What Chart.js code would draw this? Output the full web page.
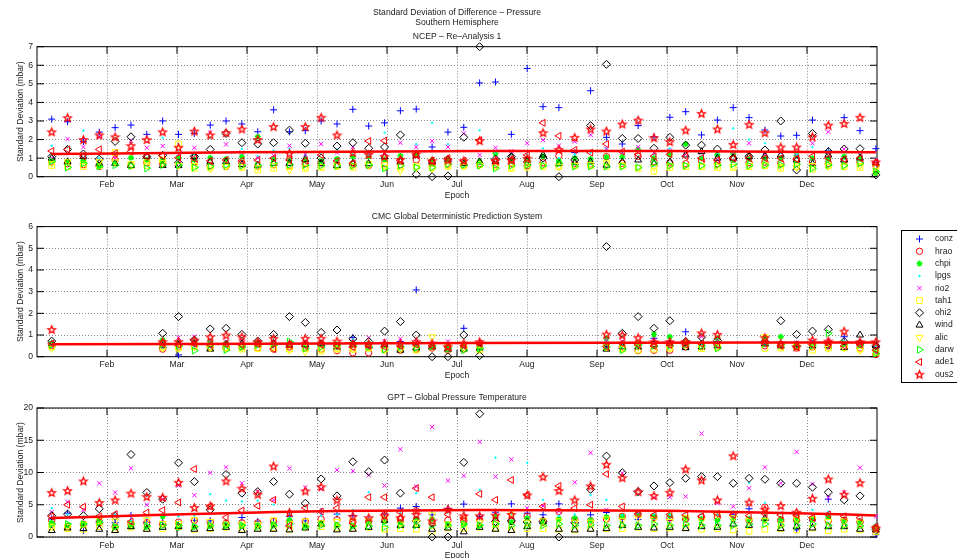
<!DOCTYPE html>
<html>
<head>
<meta charset="utf-8">
<script src="https://cdn.jsdelivr.net/npm/chart.js@4.4.1/dist/chart.umd.min.js"></script>
<style>
body { margin: 0; background: #fff; overflow: hidden; }
#wrap { position: relative; width: 957px; height: 558px; }
canvas { position: absolute; left: 0; }
</style>
</head>
<body>
<div id="wrap">
<canvas id="ncep" width="957" height="200" style="top:0"></canvas>
<canvas id="cmc" width="957" height="190" style="top:200px"></canvas>
<canvas id="gpt" width="957" height="180" style="top:380px"></canvas>
</div>
<script>
const stations = ['conz', 'hrao', 'chpi', 'lpgs', 'rio2', 'tah1', 'ohi2', 'wind', 'alic', 'darw', 'ade1', 'ous2']
const monthLabels = ['Feb', 'Mar', 'Apr', 'May', 'Jun', 'Jul', 'Aug', 'Sep', 'Oct', 'Nov', 'Dec']
const n = null

// NCEP - Re-Analysis 1, one value per weekly epoch (53 weeks)
const ncepConz = [3.1,2.96,1.9,2.4,2.64,2.78,2.28,3.0,2.28,2.33,2.78,3.0,2.84,2.42,3.6,2.42,2.48,3.0,2.84,3.63,2.73,2.9,3.55,3.64,1.6,2.4,2.66,5.05,5.1,2.28,5.83,3.77,3.72,1.3,4.63,2.12,1.76,2.75,2.15,3.2,3.5,2.25,3.05,3.72,3.18,2.51,2.19,2.23,3.05,1.4,3.18,2.48,1.51]
const ncepHrao = [0.8,0.7,0.65,0.55,0.9,0.6,0.75,0.7,0.62,0.8,0.6,0.55,0.72,0.58,0.66,0.6,0.7,0.75,0.62,0.68,0.6,0.7,0.64,0.9,0.75,0.68,0.62,0.7,0.66,0.72,0.6,0.75,1.13,0.7,0.68,1.08,0.72,1.1,0.8,0.74,0.7,0.86,0.7,0.95,0.75,0.78,0.72,0.95,0.8,0.72,0.85,0.78,0.6]
const ncepChpi = [0.85,0.8,0.85,0.55,0.72,1.02,0.9,0.85,1.02,0.9,1.02,0.95,1.08,2.15,0.95,0.88,0.9,0.85,0.95,1.08,1.08,0.92,1.12,1.17,0.9,0.95,0.72,0.8,1.26,0.9,0.95,1.1,0.85,1.0,0.95,1.05,1.08,1.47,1.0,1.2,1.76,1.0,1.17,1.22,0.95,1.0,1.0,1.15,1.0,0.95,1.08,1.0,0.2]
const ncepLpgs = [1.67,1.6,2.48,1.0,1.2,1.8,1.2,2.1,1.3,1.2,2.1,1.3,1.5,1.1,1.4,1.5,1.2,1.3,1.47,1.2,1.3,2.37,1.0,1.75,2.9,1.75,1.4,2.5,1.3,1.2,1.2,1.52,1.0,1.2,1.3,1.52,1.3,1.1,1.2,1.52,1.3,1.1,1.2,2.6,2.0,1.8,1.3,1.2,1.6,1.4,1.3,1.2,1.0]
const ncepRio2 = [1.0,2.03,1.6,2.15,1.0,1.94,1.56,1.65,1.2,1.56,2.37,1.74,1.3,1.0,1.13,1.67,1.2,1.76,1.3,1.6,1.2,1.3,1.83,1.6,1.92,1.6,2.33,1.17,1.56,1.38,1.8,1.97,1.67,1.89,2.25,1.5,1.3,1.6,1.3,1.4,1.2,1.3,0.93,1.2,1.8,1.2,1.3,1.1,1.8,2.42,1.49,1.17,0.9]
const ncepTah1 = [0.6,0.55,0.55,0.6,1.3,0.6,0.6,0.9,1.76,0.45,0.5,0.6,0.5,0.36,0.45,0.55,0.45,0.5,0.55,0.5,0.68,0.6,0.5,0.55,0.5,0.55,0.6,0.65,0.55,0.45,0.5,0.55,0.55,0.6,0.6,0.55,0.6,0.45,0.3,0.5,0.55,0.55,0.5,0.5,0.55,0.6,0.45,0.55,0.4,0.6,0.55,0.5,0.3]
const ncepOhi2 = [1.08,1.47,1.22,0.95,1.9,2.15,1.08,1.15,0.75,1.1,1.47,2.33,1.83,1.76,1.83,2.51,1.8,1.0,1.65,1.83,1.53,1.6,2.25,0.13,0.0,0.04,2.12,7.0,0.95,1.08,0.8,1.0,0.0,0.9,2.75,6.05,2.06,2.06,1.53,2.12,1.7,1.7,1.49,1.0,1.1,1.44,3.0,0.36,2.33,1.35,1.49,1.51,0.1]
const ncepWind = [1.0,0.8,1.08,0.72,0.72,0.6,1.1,0.6,0.6,1.1,0.8,0.8,0.65,0.62,0.72,0.72,0.93,0.72,0.6,0.72,0.7,1.08,0.8,1.15,0.8,0.93,0.7,0.8,0.8,1.08,0.9,1.17,0.7,0.75,0.8,0.62,0.8,0.9,0.7,0.8,1.17,1.35,1.0,1.0,1.08,1.12,1.17,0.9,0.7,1.17,0.9,1.0,0.72]
const ncepAlic = [0.72,0.8,0.7,0.8,0.8,0.7,0.8,0.75,0.6,0.6,0.41,0.55,0.55,0.5,0.6,0.36,0.5,0.55,0.6,0.6,0.6,0.5,0.32,0.5,0.45,0.6,0.55,0.6,0.55,0.5,0.72,0.6,0.55,0.6,0.65,0.75,0.6,0.5,0.5,0.6,0.6,0.55,0.6,0.55,0.6,0.6,0.55,0.5,0.6,0.55,0.55,0.6,0.5]
const ncepDarw = [0.83,0.5,0.72,0.55,0.62,0.58,0.45,0.63,0.62,0.5,0.55,0.63,0.6,0.62,0.72,0.65,0.63,0.6,0.6,0.6,0.63,0.45,0.6,0.5,0.5,0.68,0.63,0.6,0.45,0.6,0.63,0.6,0.72,0.55,0.55,0.55,0.55,0.5,0.72,0.6,0.6,0.6,0.63,0.68,0.6,0.63,0.63,0.67,0.45,0.63,0.6,0.72,0.27]
const ncepAde1 = [1.38,1.47,1.1,1.47,1.26,1.35,1.08,1.13,1.02,0.98,0.85,0.9,0.86,0.9,1.0,0.9,0.86,1.17,0.85,0.72,1.92,1.94,0.86,1.17,0.86,1.0,0.86,1.97,0.86,0.93,1.17,2.9,2.2,1.44,1.3,1.76,1.35,1.2,1.1,1.2,1.1,1.0,0.9,1.0,1.0,1.0,1.0,0.95,1.1,1.0,0.95,1.0,0.75]
const ncepOus2 = [2.42,3.18,2.0,2.25,2.15,1.67,2.0,2.42,1.58,2.46,2.25,2.37,2.57,2.0,2.7,1.26,2.7,3.2,2.25,1.3,1.2,1.1,0.93,1.22,0.86,0.9,0.86,1.94,0.86,0.9,1.0,2.37,1.47,2.12,2.57,2.46,2.84,3.05,2.1,1.89,2.51,3.41,2.57,1.74,2.82,2.37,1.6,1.6,2.15,2.78,2.87,3.2,0.8]
const ncepTrendWeeks = [0, 12, 27, 39, 52]
const ncepTrend = [1.22, 1.31, 1.39, 1.38, 1.31]

// CMC Global Deterministic Prediction System (null = no solution that week)
const cmcConz = [0.62,n,n,n,n,n,n,0.6,0.08,0.6,0.55,0.6,0.55,0.6,0.55,0.6,0.55,0.6,0.5,0.88,0.55,0.6,0.7,3.08,0.5,0.55,1.31,0.6,n,n,n,n,n,n,n,0.55,0.6,0.5,0.85,0.7,1.15,0.6,0.7,n,n,0.6,0.55,0.5,0.6,0.7,0.92,0.6,0.3]
const cmcHrao = [0.5,n,n,n,n,n,n,0.35,0.45,0.5,0.45,0.4,0.45,0.4,0.35,0.45,0.4,0.35,0.28,0.18,0.18,0.35,0.3,0.35,0.4,0.3,0.35,0.4,n,n,n,n,n,n,n,0.5,0.45,0.28,0.3,0.3,0.45,0.5,0.45,n,n,0.5,0.55,0.4,0.45,0.5,0.45,0.4,0.1]
const cmcChpi = [0.62,n,n,n,n,n,n,0.77,0.62,0.65,0.7,0.62,0.5,0.62,0.6,0.6,0.55,0.6,0.55,0.62,0.6,0.55,0.5,0.55,0.5,0.5,0.55,0.45,n,n,n,n,n,n,n,0.85,0.6,0.62,1.03,0.92,0.6,0.6,0.85,n,n,0.85,0.92,0.55,0.6,0.65,0.6,0.55,0.4]
const cmcLpgs = [0.6,n,n,n,n,n,n,0.7,0.75,0.65,0.6,0.55,0.7,0.6,0.65,0.6,0.55,0.6,0.6,0.8,0.65,0.6,0.55,0.6,0.55,0.6,0.65,0.6,n,n,n,n,n,n,n,0.65,0.6,0.6,0.7,0.65,0.6,0.55,0.65,n,n,0.6,0.55,0.6,0.65,0.6,0.7,0.6,0.45]
const cmcRio2 = [0.6,n,n,n,n,n,n,0.65,0.88,0.92,0.75,0.7,0.75,0.6,0.7,0.65,0.7,0.62,0.6,0.7,0.88,0.72,0.82,0.7,0.6,0.7,0.45,0.55,n,n,n,n,n,n,n,0.77,0.7,0.6,0.7,0.65,0.6,0.92,0.75,n,n,0.7,0.6,0.65,0.7,0.75,0.65,0.6,0.4]
const cmcTah1 = [0.46,n,n,n,n,n,n,0.45,0.4,0.46,0.4,0.42,0.35,0.38,0.4,0.35,0.38,0.26,0.35,0.35,0.4,0.35,0.38,0.3,0.45,0.35,0.4,0.3,n,n,n,n,n,n,n,0.4,0.35,0.3,0.35,0.4,0.62,0.38,0.45,n,n,0.38,0.4,0.45,0.3,0.4,0.42,0.35,0.2]
const cmcOhi2 = [0.72,n,n,n,n,n,n,1.08,1.85,0.77,1.28,1.31,1.03,0.72,1.03,1.85,1.58,1.12,1.23,0.82,0.7,1.18,1.62,1.0,0.0,0.0,1.0,0.05,n,n,n,n,n,n,n,5.08,1.08,1.85,1.31,1.66,0.7,0.9,0.75,n,n,0.7,1.66,1.03,1.18,1.26,0.7,0.6,0.5]
const cmcWind = [0.55,n,n,n,n,n,n,0.5,0.55,0.6,0.35,0.55,0.6,0.55,0.6,0.5,0.55,0.6,0.45,0.55,0.5,0.55,0.3,0.4,0.45,0.35,0.35,0.4,n,n,n,n,n,n,n,0.35,0.46,0.45,0.55,0.6,0.42,0.45,0.5,n,n,0.6,0.5,0.55,0.5,0.5,0.42,1.0,0.5]
const cmcAlic = [0.38,n,n,n,n,n,n,0.4,0.38,0.45,0.42,0.4,0.42,0.4,0.45,0.3,0.23,0.35,0.4,0.35,0.4,0.3,0.35,0.4,0.92,0.45,0.4,0.35,n,n,n,n,n,n,n,0.45,0.4,0.45,0.5,0.4,0.5,0.4,0.45,n,n,0.92,0.45,0.5,0.45,0.38,0.4,0.3,0.2]
const cmcDarw = [0.55,n,n,n,n,n,n,0.6,0.5,0.28,0.55,0.31,0.45,0.55,0.55,0.7,0.38,0.45,0.55,0.55,0.45,0.33,0.45,0.4,0.5,0.38,0.3,0.38,n,n,n,n,n,n,n,0.46,0.3,0.55,0.5,0.5,0.58,0.5,0.38,n,n,0.6,0.55,0.5,0.52,1.08,0.6,0.55,0.15]
const cmcAde1 = [0.6,n,n,n,n,n,n,0.62,0.55,0.6,0.55,0.6,0.55,0.6,0.35,0.55,0.5,0.55,0.5,0.45,0.5,0.45,0.5,0.55,0.5,0.45,0.5,0.6,n,n,n,n,n,n,n,0.46,0.62,0.55,0.5,0.55,0.55,0.6,0.55,n,n,0.6,0.5,0.45,0.55,0.6,0.5,0.55,0.3]
const cmcOus2 = [1.26,n,n,n,n,n,n,0.69,0.7,0.77,0.92,1.0,0.92,0.69,0.85,0.58,0.85,0.85,0.72,0.6,0.6,0.62,0.62,0.69,0.62,0.46,0.62,0.69,n,n,n,n,n,n,n,1.04,1.0,0.88,0.69,0.69,0.69,1.1,1.03,n,n,0.88,0.62,0.46,0.77,0.72,1.18,0.69,0.69]
const cmcTrendWeeks = [0, 26, 52]
const cmcTrend = [0.57, 0.63, 0.66]

// GPT - Global Pressure Temperature
const gptConz = [2.8,3.7,1.0,2.5,2.2,3.35,2.3,2.4,2.0,2.57,2.5,2.2,3.03,2.4,2.3,3.2,2.5,3.96,3.55,3.3,2.6,3.6,4.47,4.73,3.44,4.4,5.1,3.2,3.85,5.14,3.7,3.44,5.14,2.9,3.44,3.8,2.9,2.7,3.0,2.6,2.8,2.7,3.44,3.44,4.37,2.6,2.4,1.1,2.5,5.86,2.6,2.4,0.36]
const gptHrao = [2.6,1.6,2.0,2.2,1.6,2.0,2.2,2.0,2.3,2.57,2.3,2.1,2.2,2.2,2.4,2.3,2.4,2.78,2.67,2.3,2.4,3.44,2.8,4.06,2.16,2.6,2.5,2.6,2.16,2.4,3.19,2.5,3.96,2.67,2.5,2.8,3.19,3.55,3.03,3.0,2.8,3.08,3.1,3.44,2.6,4.63,2.67,2.6,2.8,2.5,2.6,2.3,1.4]
const gptChpi = [2.16,1.8,2.0,2.2,1.6,1.6,1.6,3.2,1.4,1.6,1.7,1.8,1.7,1.8,2.0,2.67,1.8,2.2,1.9,1.7,2.28,2.4,2.3,2.78,2.8,2.0,1.9,1.8,3.08,2.3,2.9,2.5,2.8,2.9,2.6,3.1,3.19,3.55,3.2,3.3,2.9,2.8,2.6,2.7,2.8,2.6,2.7,2.6,2.8,3.1,2.5,2.3,1.4]
const gptLpgs = [4.47,3.5,3.2,3.0,3.4,2.5,3.0,3.5,3.2,3.3,6.63,5.65,5.5,5.65,5.0,3.4,4.0,3.3,3.5,4.2,6.94,3.6,3.7,6.8,4.0,3.8,3.9,7.3,12.3,3.6,11.52,5.76,3.3,3.5,6.5,5.76,3.4,6.5,3.6,3.4,3.8,3.6,3.4,4.0,8.4,5.3,3.7,3.4,4.2,3.9,3.6,3.4,2.0]
const gptRio2 = [3.85,5.45,4.2,8.33,6.9,10.64,5.0,5.86,7.97,6.48,9.97,10.8,8.33,7.04,5.76,10.64,7.66,7.46,10.4,10.23,9.6,7.97,13.6,7.81,17.07,8.74,9.51,14.76,9.36,12.03,4.5,4.8,4.0,8.48,13.06,4.2,9.9,3.8,6.12,6.17,6.27,16.04,5.24,4.73,7.56,10.8,8.33,13.2,8.22,6.1,6.9,10.75,3.19]
const gptTah1 = [1.5,1.3,1.2,1.6,1.2,1.5,1.3,1.3,1.6,1.2,1.3,1.5,1.2,1.3,1.4,1.2,1.5,1.6,1.4,1.3,1.5,1.2,1.3,1.2,0.9,1.4,1.3,1.5,1.4,1.2,1.3,1.3,1.2,1.1,1.3,1.3,1.3,1.5,1.3,1.4,1.5,1.2,1.3,1.1,0.9,1.2,1.3,1.1,1.4,1.0,1.2,1.1,0.8]
const gptOhi2 = [3.3,3.55,3.3,4.37,3.2,12.8,6.9,5.86,11.5,8.59,4.22,9.7,6.8,7.04,8.59,6.63,5.24,9.0,6.38,11.67,10.13,11.93,6.8,2.5,0.0,0.0,11.57,19.1,2.4,2.5,2.3,2.4,0.0,2.2,7.4,12.55,9.97,7.04,7.92,8.43,9.1,9.36,9.36,8.33,9.1,8.95,8.33,8.33,7.71,6.94,5.76,6.38,1.2]
const gptWind = [1.0,1.4,1.3,1.2,1.0,1.6,1.2,1.5,1.6,1.2,1.3,1.5,1.0,1.2,1.2,1.1,1.4,2.0,1.1,1.2,1.5,2.6,1.8,1.8,1.2,1.4,0.8,1.5,1.2,1.0,1.6,2.4,1.2,1.1,1.2,1.3,1.8,1.5,1.4,1.5,1.3,1.6,1.5,2.0,1.8,2.9,1.3,1.6,1.4,1.6,1.6,1.2,1.1]
const gptAlic = [1.7,1.6,2.0,2.6,2.5,2.0,2.67,2.1,2.1,2.7,2.4,2.0,2.0,2.0,2.67,2.1,2.5,2.2,2.4,2.5,2.5,2.8,2.0,2.3,3.44,2.0,2.6,2.3,2.0,3.8,2.3,2.5,2.5,2.3,2.3,2.8,2.6,2.9,2.7,2.4,3.0,2.5,3.44,3.0,2.5,2.6,2.0,2.8,2.8,2.4,2.5,2.3,1.2]
const gptDarw = [2.0,2.0,2.0,2.3,1.6,2.0,1.7,1.8,1.8,1.6,1.8,1.8,1.8,1.6,1.8,2.0,1.6,1.8,1.8,1.7,1.7,1.5,1.8,1.8,1.8,1.8,2.0,1.8,2.0,1.8,1.8,1.8,2.0,1.8,1.9,1.8,1.8,1.8,2.0,1.8,2.0,1.8,1.8,1.8,2.0,2.0,1.8,1.8,2.0,1.8,1.8,1.7,1.4]
const gptAde1 = [3.2,5.0,4.68,3.2,3.55,2.4,3.8,4.16,5.35,10.54,4.73,3.03,4.1,4.83,5.76,1.75,4.52,3.96,4.47,2.16,6.17,6.17,3.85,7.56,6.17,3.5,2.93,6.68,5.76,8.84,6.53,4.73,7.92,4.47,4.99,9.77,4.73,3.6,3.4,3.5,3.4,3.2,3.6,3.4,3.3,3.6,3.4,3.4,3.0,3.5,3.2,3.0,1.6]
const gptOus2 = [6.9,7.2,8.7,5.35,5.76,6.8,6.27,6.17,8.48,4.58,4.83,8.7,7.56,6.63,11.0,3.8,7.15,7.81,5.76,3.2,3.0,3.3,3.0,3.5,2.5,4.32,3.3,3.3,3.4,3.5,6.53,9.36,7.2,5.76,7.92,11.26,9.2,7.04,6.43,6.94,10.54,8.84,5.76,12.6,5.4,4.3,4.88,3.85,6.0,9.0,6.63,8.43,1.39]
const gptTrendWeeks = [0, 7, 13, 18, 27, 39, 47, 52]
const gptTrend = [2.95, 3.45, 3.8, 4.05, 4.2, 4.06, 3.7, 3.35]

const ncepSeries = [ncepConz, ncepHrao, ncepChpi, ncepLpgs, ncepRio2, ncepTah1, ncepOhi2, ncepWind, ncepAlic, ncepDarw, ncepAde1, ncepOus2]
const cmcSeries = [cmcConz, cmcHrao, cmcChpi, cmcLpgs, cmcRio2, cmcTah1, cmcOhi2, cmcWind, cmcAlic, cmcDarw, cmcAde1, cmcOus2]
const gptSeries = [gptConz, gptHrao, gptChpi, gptLpgs, gptRio2, gptTah1, gptOhi2, gptWind, gptAlic, gptDarw, gptAde1, gptOus2]

const yearDays = 371
// weekly epochs, plotted mid-week
const epochDays = Array.from({ length: 53 }, (_, i) => 7 * i + 6.5)

const FONT = "'Liberation Sans', Arial, Helvetica, sans-serif"
const FSIZE = 8.6
const TEXT = '#222'

function pentagram (r, color) {
  const c = document.createElement('canvas')
  const s = Math.ceil(2 * r + 3)
  c.width = s
  c.height = s
  const g = c.getContext('2d')
  g.strokeStyle = color
  g.lineWidth = 1.3
  g.lineJoin = 'miter'
  g.beginPath()
  for (let k = 0; k < 10; k++) {
    const rr = k % 2 ? r * 0.45 : r
    const a = -Math.PI / 2 + k * Math.PI / 5
    g.lineTo(s / 2 + rr * Math.cos(a), s / 2 + 0.5 + rr * Math.sin(a))
  }
  g.closePath()
  g.stroke()
  return c
}

const markers = {
  conz: { style: 'cross', r: 3.5, color: '#0000ff' },
  hrao: { style: 'circle', r: 3.2, color: '#ff0000' },
  chpi: { style: 'star', r: 3, color: '#00ff00', w: 1.4 },
  lpgs: { style: 'circle', r: 0.8, color: '#00ffff', fill: true },
  rio2: { style: 'crossRot', r: 3, color: '#ff00ff' },
  tah1: { style: 'rect', r: 4, color: '#ffff00' },
  ohi2: { style: 'rectRot', r: 4, color: '#000000' },
  wind: { style: 'triangle', r: 4, color: '#000000' },
  alic: { style: 'triangle', r: 4, color: '#ffff00', rot: 180 },
  darw: { style: 'triangle', r: 4, color: '#00ff00', rot: 90 },
  ade1: { style: 'triangle', r: 4, color: '#ff0000', rot: 270 },
  ous2: { style: pentagram(4, '#ff0000'), r: 4, color: '#ff0000' }
}

function stationDatasets (series) {
  return stations.map((name, s) => {
    const m = markers[name]
    const pts = []
    series[s].forEach((v, i) => { if (v !== null) pts.push({ x: epochDays[i], y: v }) })
    return {
      label: name,
      data: pts,
      order: 12 - s,
      pointStyle: m.style,
      pointRadius: m.r,
      pointRotation: m.rot || 0,
      pointBorderColor: m.color,
      pointBackgroundColor: m.fill ? m.color : 'rgba(0,0,0,0)',
      pointBorderWidth: m.w || 1,
      clip: false
    }
  })
}

function trendDataset (weeks, vals) {
  return {
    label: 'trend',
    data: weeks.map((w, i) => ({ x: epochDays[w], y: vals[i] })),
    showLine: true,
    borderColor: '#ff0000',
    borderWidth: 2.5,
    pointRadius: 0,
    cubicInterpolationMode: 'monotone',
    order: 0
  }
}

const boxPlugin = {
  id: 'box',
  beforeDatasetsDraw (chart) {
    const { ctx, chartArea: a, scales: { x, y } } = chart
    ctx.save()
    ctx.strokeStyle = '#000'
    ctx.lineWidth = 1
    ctx.strokeRect(a.left, a.top, a.right - a.left, a.bottom - a.top)
    ctx.beginPath()
    x.ticks.forEach(t => {
      const px = x.getPixelForValue(t.value)
      ctx.moveTo(px, a.top); ctx.lineTo(px, a.top + 7)
      ctx.moveTo(px, a.bottom); ctx.lineTo(px, a.bottom - 7)
    })
    y.ticks.forEach(t => {
      const py = y.getPixelForValue(t.value)
      ctx.moveTo(a.left, py); ctx.lineTo(a.left + 7, py)
      ctx.moveTo(a.right, py); ctx.lineTo(a.right - 7, py)
    })
    ctx.stroke()
    ctx.restore()
  }
}

const legendPlugin = {
  id: 'stationLegend',
  afterDraw (chart) {
    const ctx = chart.ctx
    ctx.save()
    ctx.fillStyle = '#fff'
    ctx.fillRect(901.5, 30.5, 80, 152)
    ctx.strokeStyle = '#000'
    ctx.lineWidth = 1
    ctx.strokeRect(901.5, 30.5, 80, 152)
    ctx.font = FSIZE + 'px ' + FONT
    ctx.textBaseline = 'middle'
    stations.forEach((name, i) => {
      const m = markers[name]
      const yy = 39 + i * 12.3
      ctx.strokeStyle = m.color
      ctx.fillStyle = m.fill ? m.color : 'rgba(0,0,0,0)'
      ctx.lineWidth = m.w || 1
      Chart.helpers.drawPoint(ctx, { pointStyle: m.style, radius: m.r, rotation: m.rot || 0, borderWidth: m.w || 1 }, 919.5, yy)
      ctx.fillStyle = TEXT
      ctx.fillText(name, 935, yy)
    })
    ctx.restore()
  }
}

function makeChart (id, o) {
  const font = { family: FONT, size: FSIZE, weight: 'normal' }
  return new Chart(document.getElementById(id), {
    type: 'scatter',
    data: { datasets: [...stationDatasets(o.series), trendDataset(o.trendWeeks, o.trend)] },
    options: {
      responsive: false,
      animation: false,
      devicePixelRatio: 1,
      layout: { padding: { top: o.padTop, right: 80, left: 0, bottom: 0 } },
      plugins: {
        legend: { display: false },
        tooltip: { enabled: false },
        title: {
          display: true, text: o.title, fullSize: false, color: TEXT,
          font: { family: FONT, size: FSIZE, weight: 'normal', lineHeight: 10 / FSIZE },
          padding: { top: 0, bottom: o.titleGap }
        },
        subtitle: {
          display: !!o.subtitle, text: o.subtitle || '', fullSize: false, color: TEXT,
          font: { family: FONT, size: FSIZE, weight: 'normal', lineHeight: 9.6 / FSIZE },
          padding: { top: 0, bottom: 5.2 }
        }
      },
      scales: {
        x: {
          type: 'linear', min: 0, max: yearDays,
          afterBuildTicks: s => { s.ticks = monthLabels.map((_, k) => ({ value: (k + 1) * yearDays / 12 })) },
          afterFit: s => { s.height = o.xHeight },
          ticks: { callback: (v, i) => monthLabels[i], font, color: TEXT, padding: 3, maxRotation: 0, autoSkip: false },
          grid: { color: '#888', drawTicks: false },
          border: { display: false, dash: [1, 2] },
          title: { display: true, text: 'Epoch', font: { ...font, lineHeight: 9.6 / FSIZE }, color: TEXT, padding: { top: 0, bottom: o.epochPad } }
        },
        y: {
          min: 0, max: o.yMax,
          afterFit: s => { s.width = 37 },
          ticks: { stepSize: o.yStep, font, color: TEXT, padding: 4 },
          grid: { color: '#888', drawTicks: false },
          border: { display: false, dash: [1, 2] },
          title: { display: true, text: 'Standard Deviation (mbar)', font: { ...font, lineHeight: 9.6 / FSIZE }, color: TEXT, padding: { top: 16, bottom: 0 } }
        }
      }
    },
    plugins: o.legend ? [boxPlugin, legendPlugin] : [boxPlugin]
  })
}

makeChart('ncep', {
  series: ncepSeries, trendWeeks: ncepTrendWeeks, trend: ncepTrend,
  title: ['Standard Deviation of Difference \u2013 Pressure', 'Southern Hemisphere'],
  subtitle: 'NCEP \u2013 Re\u2013Analysis 1',
  padTop: 8, titleGap: 3.9, xHeight: 23.3, epochPad: 0, yMax: 7, yStep: 1
})
makeChart('cmc', {
  series: cmcSeries, trendWeeks: cmcTrendWeeks, trend: cmcTrend,
  title: 'CMC Global Deterministic Prediction System',
  padTop: 11.5, titleGap: 5.1, xHeight: 33.3, epochPad: 10, yMax: 6, yStep: 1, legend: true
})
makeChart('gpt', {
  series: gptSeries, trendWeeks: gptTrendWeeks, trend: gptTrend,
  title: 'GPT \u2013 Global Pressure Temperature',
  padTop: 12.4, titleGap: 5.6, xHeight: 23, epochPad: 0, yMax: 20, yStep: 5
})
</script>
</body>
</html>
